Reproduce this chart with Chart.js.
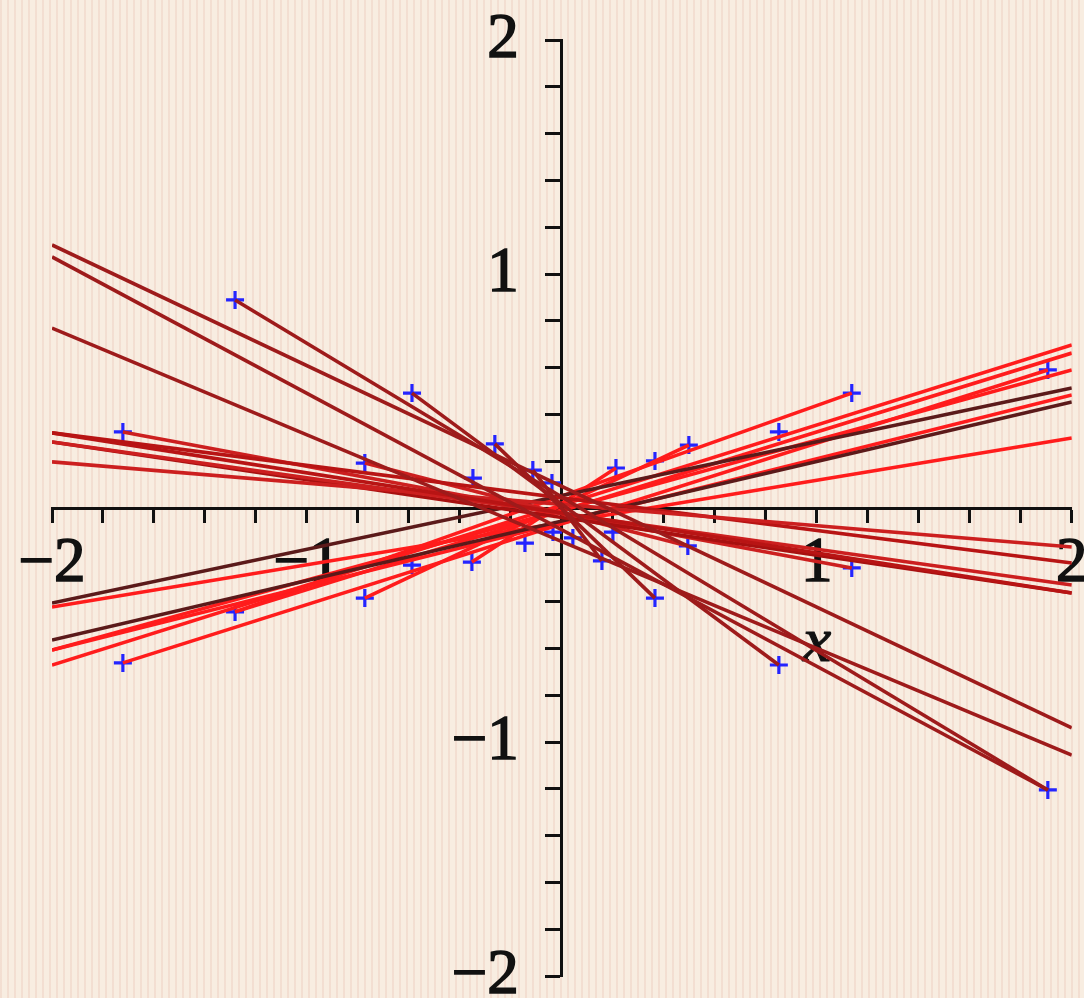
<!DOCTYPE html>
<html>
<head>
<meta charset="utf-8">
<script src="https://cdn.jsdelivr.net/npm/chart.js@4.4.1/dist/chart.umd.min.js"></script>
<style>
  html, body { margin: 0; padding: 0; }
  body {
    width: 1084px; height: 998px; overflow: hidden;
    background-color: #f8ede1;
    background-image: repeating-linear-gradient(90deg, rgba(228,180,165,0.26) 0px, rgba(228,180,165,0.26) 2px, rgba(0,0,0,0) 2px, rgba(0,0,0,0) 7px);
  }
  #wrap { position: relative; width: 1084px; height: 998px; }
</style>
</head>
<body>
<div id="wrap"><canvas id="c"></canvas></div>
<script>
// ---- data ----
const xRange = [-2, 2];
const yRange = [-2, 2];
const xTickValues = [-2, -1, 1, 2];
const xTickText = ['−2', '−1', '1', '2'];
const yTickValues = [-2, -1, 1, 2];
const yTickText = ['−2', '−1', '1', '2'];
const axisLabel = 'x';

// line segments: start (x1,y1) to end (x2,y2)
const segX1 = [-2, -2, -2, -1.282, -0.588, -0.263, -0.114,
               -2, -2, -2, -2, -2, -1.722, -0.773,
               -2, -2, -2, -2, -2, -1.722, -1.282, -2, -1.282, -0.773, -0.353];
const segY1 = [1.124, 1.073, 0.769, 0.889, 0.491, 0.274, 0.162,
               0.321, 0.282, 0.197, 0.321, 0.282, 0.325, 0.192,
               -0.406, -0.564, -0.423, -0.607, -0.671, -0.662, -0.444, -0.607, -0.444, -0.385, -0.231];
const segX2 = [2, 1.906, 2, 1.906, 0.851, 0.365, 0.157,
               2, 2, 2, 2, 2, 1.137, 0.494,
               2, 2, 2, 2, 2, 1.906, 2, 2, 1.137, 0.498, 0.212];
const segY2 = [-0.940, -1.205, -1.056, -1.205, -0.671, -0.385, -0.226,
               -0.363, -0.329, -0.167, -0.235, -0.363, -0.256, -0.162,
               0.513, 0.453, 0.299, 0.483, 0.697, 0.590, 0.662, 0.590, 0.491, 0.269, 0.171];
const segShade = [0, 0, 0, 0, 0, 0, 0,
                  1, 2, 2, 1, 3, 2, 2,
                  4, 4, 5, 5, 5, 5, 5, 5, 5, 5, 5];

// blue cross markers
const crossX = [-1.722, -1.282, -0.773, -0.588, -0.263, -0.114, -0.039, -0.349,
                -1.722, -1.282, -0.773, -0.588, -0.353, -0.145, -0.035,
                1.906, 1.137, 0.851, 0.498, 0.365, 0.212,
                1.906, 1.137, 0.851, 0.494, 0.365, 0.157, 0.043, 0.200];
const crossY = [0.325, 0.889, 0.192, 0.491, 0.274, 0.162, 0.107, 0.128,
                -0.662, -0.444, -0.385, -0.244, -0.231, -0.150, -0.103,
                0.590, 0.491, 0.325, 0.269, 0.201, 0.171,
                -1.205, -0.256, -0.671, -0.162, -0.385, -0.226, -0.128, -0.103];

// ---- styles ----
const palette = ['#9e1b1b', '#b81414', '#cc1f1f', '#a81010', '#5b1a1a', '#ff1c1c'];
const serif = '"Liberation Serif", "DejaVu Serif", serif';
const yLabelGap = 0.169; // label column offset from the y axis, in x units

const datasets = [];
for (let i = 0; i < segX1.length; i++) {
  datasets.push({
    data: [{x: segX1[i], y: segY1[i]}, {x: segX2[i], y: segY2[i]}],
    showLine: true,
    borderColor: palette[segShade[i]],
    backgroundColor: palette[segShade[i]],
    borderWidth: 3.6,
    pointRadius: 0,
    pointHoverRadius: 0,
    fill: false
  });
}
datasets.push({
  data: crossX.map((x, i) => ({x, y: crossY[i]})),
  showLine: false,
  pointStyle: 'cross',
  pointRadius: 9,
  pointBorderWidth: 3.2,
  pointBorderColor: '#2424ff',
  pointBackgroundColor: '#2424ff'
});

function tickFmt(values, texts) {
  return function(v) {
    for (let i = 0; i < values.length; i++) {
      if (Math.abs(v - values[i]) < 1e-6) return texts[i];
    }
    return '';
  };
}
function noSpace(isH) {
  return function(s) {
    if (isH) s.height = 0; else s.width = 0;
    s.paddingLeft = 0; s.paddingRight = 0; s.paddingTop = 0; s.paddingBottom = 0;
  };
}

const axisTextPlugin = {
  id: 'axisText',
  beforeDatasetsDraw(chart) {
    const ctx = chart.ctx;
    const xs = chart.scales.x, ys = chart.scales.y;
    ctx.save();
    ctx.font = 'italic 64px ' + serif;
    ctx.fillStyle = '#111';
    ctx.strokeStyle = '#111';
    ctx.lineWidth = 1.2;
    ctx.textAlign = 'center';
    ctx.textBaseline = 'middle';
    const px = xs.getPixelForValue(1.0), py = ys.getPixelForValue(-0.58);
    ctx.strokeText(axisLabel, px, py);
    ctx.fillText(axisLabel, px, py);
    ctx.restore();
  }
};

const tickFont = { family: serif, size: 63 };

new Chart(document.getElementById('c'), {
  type: 'scatter',
  data: { datasets },
  plugins: [axisTextPlugin],
  options: {
    responsive: true,
    maintainAspectRatio: false,
    animation: false,
    events: [],
    layout: { padding: { left: 52, right: 12, top: 40, bottom: 22 } },
    plugins: { legend: { display: false }, tooltip: { enabled: false } },
    scales: {
      x: {
        type: 'linear',
        min: xRange[0], max: xRange[1],
        position: { y: 0 },
        afterFit: noSpace(true),
        border: { display: true, color: '#111', width: 3 },
        grid: { drawOnChartArea: false, drawTicks: true, tickLength: 13, tickColor: '#111', tickWidth: 3 },
        ticks: {
          stepSize: 0.2, autoSkip: false, maxRotation: 0,
          callback: tickFmt(xTickValues, xTickText),
          font: tickFont, color: '#111', padding: 6,
          textStrokeColor: '#111', textStrokeWidth: 1.6
        }
      },
      y: {
        type: 'linear',
        min: yRange[0], max: yRange[1],
        position: { x: 0 },
        afterFit: noSpace(false),
        border: { display: true, color: '#111', width: 3 },
        grid: { drawOnChartArea: false, drawTicks: true, tickLength: 15, tickColor: '#111', tickWidth: 3 },
        ticks: { stepSize: 0.2, autoSkip: false, display: false }
      },
      yl: {
        type: 'linear',
        min: yRange[0], max: yRange[1],
        position: { x: -yLabelGap },
        afterFit: noSpace(false),
        border: { display: false },
        grid: { display: false, drawTicks: false },
        ticks: {
          stepSize: 0.2, autoSkip: false,
          callback: tickFmt(yTickValues, yTickText),
          font: tickFont, color: '#111', padding: 0,
          textStrokeColor: '#111', textStrokeWidth: 1.6
        }
      }
    }
  }
});
</script>
</body>
</html>
